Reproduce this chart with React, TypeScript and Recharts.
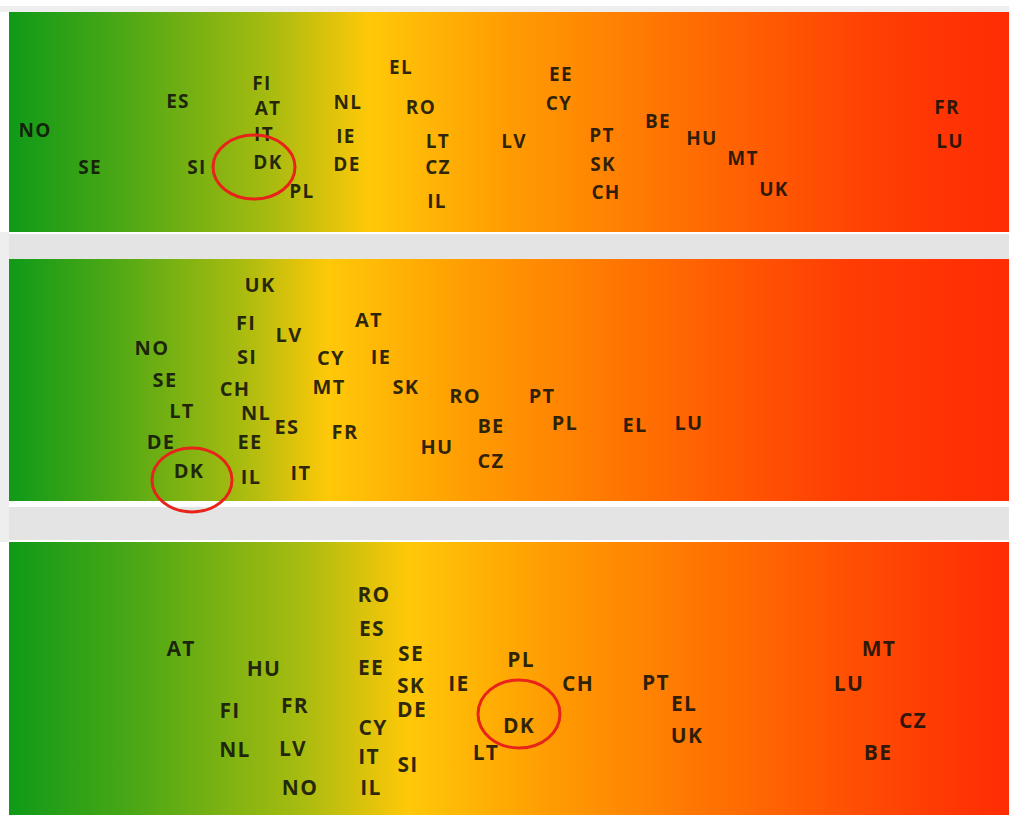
import React from "react";
import { ScatterChart, Scatter, XAxis, YAxis, ReferenceArea } from "recharts";

// ---------- DATA ----------
const panel1Codes = ["NO","SE","ES","SI","FI","AT","IT","DK","PL","NL","IE","DE","EL","RO","LT","CZ","IL","LV","EE","CY","PT","SK","CH","BE","HU","MT","UK","FR","LU"];
const panel1Score = [2.6,8.1,16.9,18.8,25.3,25.9,25.5,25.9,29.3,33.9,33.7,33.8,39.2,41.2,42.9,42.9,42.8,50.5,55.2,55.0,59.3,59.4,59.7,64.9,69.3,73.4,76.5,93.8,94.1];
const panel1Row = [46.4,29.5,59.5,29.5,67.7,56.4,44.5,31.8,18.6,59.1,43.6,30.9,75.0,56.8,41.4,29.5,14.1,41.4,71.8,58.6,44.1,30.9,18.2,50.5,42.7,33.6,19.5,56.8,41.4];
const panel1Highlight = [{ x: 24.5, y: 29.5 }];

const panel2Codes = ["UK","FI","LV","AT","NO","SI","CY","IE","SE","CH","MT","SK","RO","LT","NL","ES","FR","DE","EE","HU","DK","IL","IT","PT","BE","PL","EL","LU","CZ"];
const panel2Score = [25.1,23.7,28.0,36.0,14.3,23.8,32.2,37.2,15.6,22.6,32.0,39.7,45.6,17.3,24.7,27.8,33.6,15.2,24.1,42.8,18.0,24.2,29.2,53.3,48.2,55.6,62.6,68.0,48.2];
const panel2Row = [89.3,73.6,69.0,74.8,63.6,59.9,59.5,59.9,50.4,46.3,47.5,47.5,43.4,37.6,36.4,30.6,28.9,24.4,24.4,22.7,12.4,10.3,11.6,43.4,31.0,32.6,31.8,32.6,16.9];
const panel2Highlight = [{ x: 18.3, y: 8.7 }];

const panel3Codes = ["RO","ES","AT","HU","EE","SE","SK","IE","FI","FR","DE","CY","NL","LV","IT","SI","NO","IL","PL","CH","DK","LT","PT","EL","UK","MT","LU","CZ","BE"];
const panel3Score = [36.5,36.3,17.2,25.5,36.2,40.2,40.2,45.0,22.1,28.6,40.3,36.4,22.6,28.4,36.0,39.9,29.1,36.2,51.2,56.9,51.0,47.7,64.7,67.5,67.8,87.0,84.0,90.4,86.9];
const panel3Row = [81.0,68.5,61.2,53.8,54.2,59.3,47.8,48.4,38.5,40.3,39.0,32.2,24.2,24.5,21.6,18.7,10.3,10.3,57.1,48.4,33.0,23.1,48.7,41.0,29.3,61.2,48.4,34.8,23.1];
const panel3Highlight = [{ x: 51.0, y: 37.0 }];

const toRows = (codes: string[], xs: number[], ys: number[]) =>
  codes.map((code, i) => ({ code, x: xs[i], y: ys[i] }));

// ---------- COMPONENTS ----------
type PanelProps = {
  top: number;
  height: number;
  extraBottom: number;
  gradientId: string;
  fontSize: number;
  rows: { code: string; x: number; y: number }[];
  highlight: { x: number; y: number }[];
  rx: number;
  ry: number;
};

function Panel({ top, height, extraBottom, gradientId, fontSize, rows, highlight, rx, ry }: PanelProps) {
  const LabelShape = (props: any) => {
    const { cx, cy, payload } = props;
    return (
      <text
        x={cx}
        y={cy}
        textAnchor="middle"
        dominantBaseline="central"
        fontFamily="'Open Sans', 'DejaVu Sans', sans-serif"
        fontWeight={700}
        fontSize={fontSize}
        letterSpacing={1.3}
        fill="#12120a"
        fillOpacity={0.88}
      >
        {payload.code}
      </text>
    );
  };
  const RingShape = (props: any) => {
    const { cx, cy } = props;
    return <ellipse cx={cx} cy={cy} rx={rx} ry={ry} fill="none" stroke="#e8231a" strokeWidth={3} />;
  };
  return (
    <div style={{ position: "absolute", left: 9, top }}>
      <ScatterChart
        width={1000}
        height={height + extraBottom}
        margin={{ top: 0, right: 0, bottom: extraBottom, left: 0 }}
      >
        <XAxis type="number" dataKey="x" domain={[0, 100]} hide />
        <YAxis type="number" dataKey="y" domain={[0, 100]} hide />
        <ReferenceArea
          x1={0}
          x2={100}
          y1={0}
          y2={100}
          fill={`url(#${gradientId})`}
          fillOpacity={1}
          stroke="none"
        />
        <Scatter data={rows} shape={LabelShape} isAnimationActive={false} />
        <Scatter data={highlight} shape={RingShape} isAnimationActive={false} />
      </ScatterChart>
    </div>
  );
}

function Grad({ id, yg, y }: { id: string; yg: number; y: number }) {
  return (
    <linearGradient id={id} x1="0" y1="0" x2="1" y2="0">
      <stop offset="0" stopColor="#0f9a18" />
      <stop offset={yg * 0.45} stopColor="#4ea815" />
      <stop offset={yg} stopColor="#a6bb10" />
      <stop offset={y} stopColor="#ffc808" />
      <stop offset={y + 0.14} stopColor="#ff9c02" />
      <stop offset={y + 0.32} stopColor="#ff6e02" />
      <stop offset={Math.min(0.92, y + 0.52)} stopColor="#ff3c04" />
      <stop offset="1" stopColor="#ff2c04" />
    </linearGradient>
  );
}

export default function App() {
  return (
    <div style={{ position: "absolute", left: 0, top: 0, width: 1009, height: 815, background: "#ffffff", overflow: "hidden" }}>
      <svg width={0} height={0} style={{ position: "absolute" }}>
        <defs>
          <Grad id="g1" yg={0.26} y={0.36} />
          <Grad id="g2" yg={0.23} y={0.32} />
          <Grad id="g3" yg={0.29} y={0.40} />
        </defs>
      </svg>
      <div style={{ position: "absolute", left: 0, top: 6, width: 1009, height: 6, background: "#eeeeee" }} />
      <div style={{ position: "absolute", left: 0, top: 234, width: 1009, height: 25, background: "#e4e4e4" }} />
      <div style={{ position: "absolute", left: 0, top: 507, width: 1009, height: 33, background: "#e4e4e4" }} />
      <div style={{ position: "absolute", left: 0, top: 232, width: 9, height: 310, background: "#eeeeee" }} />
      <Panel top={12} height={220} extraBottom={0} gradientId="g1" fontSize={19}
        rows={toRows(panel1Codes, panel1Score, panel1Row)} highlight={panel1Highlight} rx={41} ry={32} />
      <Panel top={259} height={242} extraBottom={14} gradientId="g2" fontSize={20}
        rows={toRows(panel2Codes, panel2Score, panel2Row)} highlight={panel2Highlight} rx={40} ry={32} />
      <Panel top={542} height={273} extraBottom={0} gradientId="g3" fontSize={21}
        rows={toRows(panel3Codes, panel3Score, panel3Row)} highlight={panel3Highlight} rx={41} ry={34} />
    </div>
  );
}
